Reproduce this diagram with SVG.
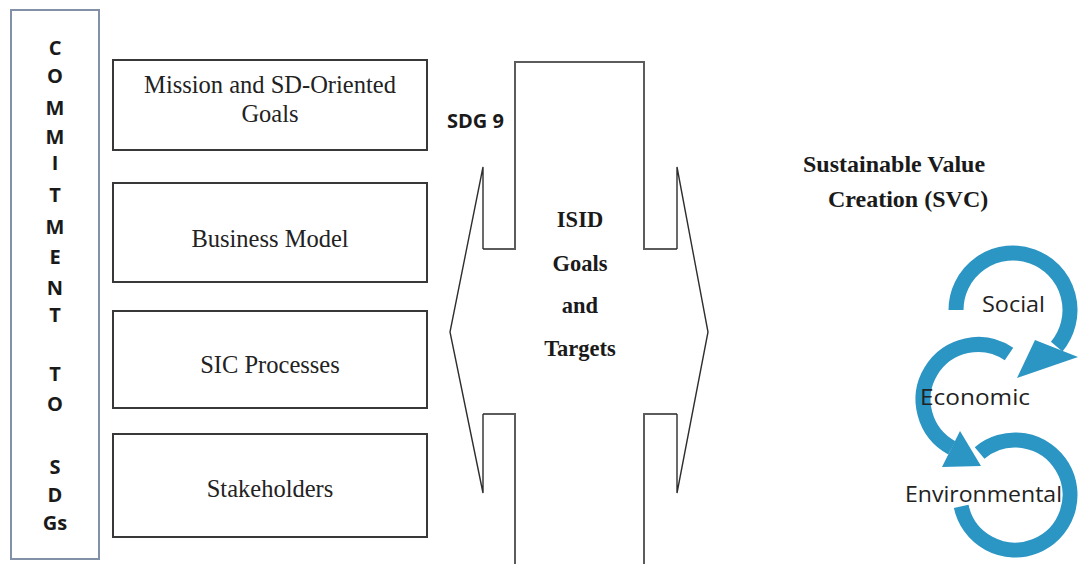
<svg xmlns="http://www.w3.org/2000/svg" width="1078" height="564" viewBox="0 0 1078 564">
  <style>
    .vbar { fill: #ffffff; stroke: #8391a8; stroke-width: 2; }
    .vletter { font-family: "Open Sans", "Noto Sans", sans-serif; font-weight: 700; font-size: 20px; fill: #1a1a1a; text-anchor: middle; }
    .box { fill: #ffffff; stroke: #383838; stroke-width: 2; }
    .boxtext { font-family: "Liberation Serif", "Times New Roman", serif; font-size: 24.5px; fill: #222222; text-anchor: middle; }
    .column { fill: none; stroke: #5c5c5c; stroke-width: 2; stroke-linejoin: miter; }
    .arrowhead { fill: none; stroke: #2e2e2e; stroke-width: 1.4; }
    .serifbold { font-family: "Liberation Serif", "Times New Roman", serif; font-weight: 700; font-size: 22.5px; fill: #1a1a1a; text-anchor: middle; }
    .title { font-family: "Liberation Serif", "Times New Roman", serif; font-weight: 700; font-size: 24px; fill: #1a1a1a; }
    .sansbold { font-family: "Open Sans", "Noto Sans", sans-serif; font-weight: 700; font-size: 20px; fill: #1a1a1a; }
    .ring { fill: none; stroke: #2b95c3; stroke-width: 15; }
    .ringhead { fill: #2b95c3; }
    .cycletext { font-family: "Open Sans", "Noto Sans", sans-serif; font-size: 21px; fill: #222222; }
  </style>

  <!-- Vertical banner: COMMITMENT TO SDGs -->
  <g id="commitment">
    <rect class="vbar" x="11" y="10" width="88" height="549"/>
    <text class="vletter" x="55" y="55">C</text>
    <text class="vletter" x="55" y="83">O</text>
    <text class="vletter" x="55" y="115">M</text>
    <text class="vletter" x="55" y="144">M</text>
    <text class="vletter" x="55" y="170">I</text>
    <text class="vletter" x="55" y="202">T</text>
    <text class="vletter" x="55" y="234">M</text>
    <text class="vletter" x="55" y="264">E</text>
    <text class="vletter" x="55" y="295">N</text>
    <text class="vletter" x="55" y="322">T</text>
    <text class="vletter" x="55" y="381">T</text>
    <text class="vletter" x="55" y="411">O</text>
    <text class="vletter" x="55" y="474">S</text>
    <text class="vletter" x="55" y="502">D</text>
    <text class="vletter" x="55" y="530">Gs</text>
  </g>

  <!-- Stacked elements -->
  <g id="mission">
    <rect class="box" x="113" y="60" width="314" height="90"/>
    <text class="boxtext" x="270" y="93">Mission and SD-Oriented</text>
    <text class="boxtext" x="270" y="122">Goals</text>
  </g>
  <g id="business-model">
    <rect class="box" x="113" y="183" width="314" height="99"/>
    <text class="boxtext" x="270" y="247">Business Model</text>
  </g>
  <g id="sic-processes">
    <rect class="box" x="113" y="311" width="314" height="97"/>
    <text class="boxtext" x="270" y="373">SIC Processes</text>
  </g>
  <g id="stakeholders">
    <rect class="box" x="113" y="434" width="314" height="103"/>
    <text class="boxtext" x="270" y="497">Stakeholders</text>
  </g>

  <!-- Central column crossed by a two-way arrow -->
  <g id="connectors">
    <path class="column" d="M515 566 V414 H483 M483 249 H515 V62 H644 V249 H677 M677 414 H644 V566"/>
    <path class="arrowhead" d="M483 414 V493 L450 332 L483 167 V249"/>
    <path class="arrowhead" d="M677 249 V167 L708 332 L677 493 V414"/>
  </g>

  <g id="isid">
    <text class="sansbold" x="447" y="128">SDG 9</text>
    <text class="serifbold" x="580" y="227">ISID</text>
    <text class="serifbold" x="580" y="271">Goals</text>
    <text class="serifbold" x="580" y="313">and</text>
    <text class="serifbold" x="580" y="356">Targets</text>
  </g>

  <!-- Sustainable value creation cycle -->
  <g id="svc">
    <text class="title" x="803" y="172">Sustainable Value</text>
    <text class="title" x="828" y="207">Creation (SVC)</text>

    <!-- environmental ring (drawn first, sits beneath the others) -->
    <path class="ring" d="M979.6 452.9 A55 55 0 1 1 961.2 506.4"/>
    <!-- economic ring with head -->
    <path class="ring" d="M1009 354 A55 55 0 1 0 951.8 447.8"/>
    <polygon class="ringhead" points="960,431 942,467 981,466"/>
    <!-- social ring with head -->
    <path class="ring" d="M956 310 A57 57 0 1 1 1056.7 346.6"/>
    <polygon class="ringhead" points="1035,340 1078,357 1017,378"/>

    <text class="cycletext" x="982" y="312" textLength="63" lengthAdjust="spacingAndGlyphs">Social</text>
    <text class="cycletext" x="920" y="405" textLength="110" lengthAdjust="spacingAndGlyphs">Economic</text>
    <text class="cycletext" x="905" y="502" textLength="157" lengthAdjust="spacingAndGlyphs">Environmental</text>
  </g>
</svg>
